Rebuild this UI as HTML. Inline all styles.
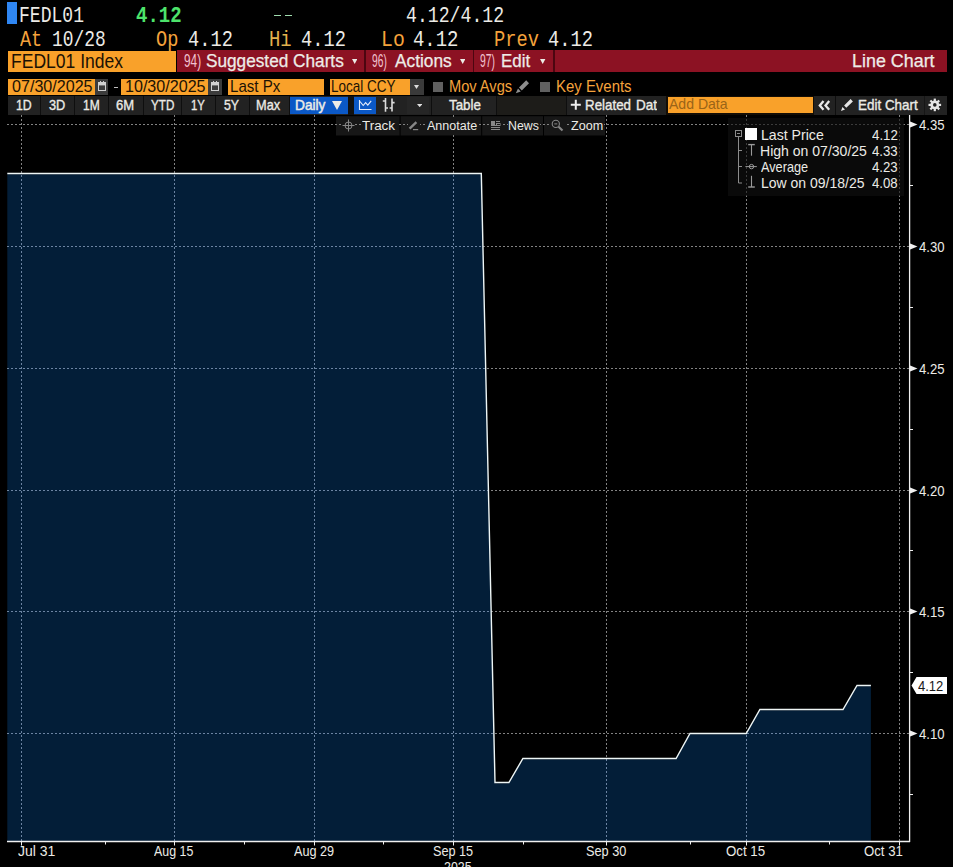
<!DOCTYPE html>
<html><head><meta charset="utf-8"><style>
html,body{margin:0;padding:0;background:#000;}
body{width:953px;height:867px;overflow:hidden;position:relative;font-family:"Liberation Sans",sans-serif;}
.t{position:absolute;white-space:pre;transform-origin:0 0;}
.r{position:absolute;}
</style></head><body>
<div class="r" style="left:7px;top:2px;width:10.00px;height:22.00px;background:#2f86f2;"></div>
<div class="t" style="left:19.28px;top:5.72px;font:normal 21.25px/21.25px 'Liberation Mono',monospace;color:#ecebe6;transform:scaleX(0.8497);">FEDL01</div>
<div class="t" style="left:136.13px;top:6.34px;font:bold 22.01px/22.01px 'Liberation Mono',monospace;color:#4de36b;transform:scaleX(0.8632);">4.12</div>
<div class="r" style="left:273.7px;top:14.9px;width:7.30px;height:1.30px;background:#9fdcae;"></div>
<div class="r" style="left:284.8px;top:14.9px;width:7.20px;height:1.30px;background:#9fdcae;"></div>
<div class="t" style="left:405.99px;top:5.72px;font:normal 21.25px/21.25px 'Liberation Mono',monospace;color:#ecebe6;transform:scaleX(0.8546);">4.12/4.12</div>
<div class="t" style="left:19.60px;top:29.72px;font:normal 21.25px/21.25px 'Liberation Mono',monospace;color:#f5a33c;transform:scaleX(0.8679);">At</div>
<div class="t" style="left:52.45px;top:29.72px;font:normal 21.25px/21.25px 'Liberation Mono',monospace;color:#ecebe6;transform:scaleX(0.8425);">10/28</div>
<div class="t" style="left:155.67px;top:29.72px;font:normal 21.25px/21.25px 'Liberation Mono',monospace;color:#f5a33c;transform:scaleX(0.8759);">Op</div>
<div class="t" style="left:188.07px;top:29.72px;font:normal 21.25px/21.25px 'Liberation Mono',monospace;color:#ecebe6;transform:scaleX(0.8791);">4.12</div>
<div class="t" style="left:268.89px;top:29.72px;font:normal 21.25px/21.25px 'Liberation Mono',monospace;color:#e2b24e;transform:scaleX(0.8882);">Hi</div>
<div class="t" style="left:300.66px;top:29.72px;font:normal 21.25px/21.25px 'Liberation Mono',monospace;color:#ecebe6;transform:scaleX(0.8811);">4.12</div>
<div class="t" style="left:381.32px;top:29.72px;font:normal 21.25px/21.25px 'Liberation Mono',monospace;color:#f5a33c;transform:scaleX(0.9318);">Lo</div>
<div class="t" style="left:413.35px;top:29.72px;font:normal 21.25px/21.25px 'Liberation Mono',monospace;color:#ecebe6;transform:scaleX(0.8915);">4.12</div>
<div class="t" style="left:494.30px;top:29.72px;font:normal 21.25px/21.25px 'Liberation Mono',monospace;color:#f5a33c;transform:scaleX(0.8813);">Prev</div>
<div class="t" style="left:548.06px;top:29.72px;font:normal 21.25px/21.25px 'Liberation Mono',monospace;color:#ecebe6;transform:scaleX(0.8811);">4.12</div>
<div class="r" style="left:8px;top:51px;width:168.00px;height:21.00px;background:#f9a12a;"></div>
<div class="t" style="left:10.70px;top:50.77px;font:normal 20.35px/20.35px 'Liberation Sans',sans-serif;color:#1c1204;transform:scaleX(0.8620);">FEDL01 Index</div>
<div class="r" style="left:177px;top:50px;width:770.00px;height:22.00px;background:#8c1223;"></div>
<div class="r" style="left:364.4px;top:50px;width:1.50px;height:22.00px;background:#4c0610;"></div>
<div class="r" style="left:472.8px;top:50px;width:1.50px;height:22.00px;background:#4c0610;"></div>
<div class="r" style="left:553px;top:50px;width:1.50px;height:22.00px;background:#4c0610;"></div>
<div class="t" style="left:183.67px;top:52.00px;font:normal 18.90px/18.90px 'Liberation Sans',sans-serif;color:#f2c2d0;transform:scaleX(0.6263);">94)</div>
<div class="t" style="left:205.83px;top:52.00px;font:normal 18.90px/18.90px 'Liberation Sans',sans-serif;color:#ecebe6;transform:scaleX(0.9109);-webkit-text-stroke:0.25px #f4f2ee;">Suggested Charts</div>
<svg class="r" style="left:351.80px;top:59.10px" width="5.4" height="5"><polygon points="0,0 5.4,0 2.7,5" fill="#ecebe6"/></svg>
<div class="t" style="left:371.84px;top:52.00px;font:normal 18.90px/18.90px 'Liberation Sans',sans-serif;color:#f2c2d0;transform:scaleX(0.5431);">96)</div>
<div class="t" style="left:394.70px;top:52.00px;font:normal 18.90px/18.90px 'Liberation Sans',sans-serif;color:#ecebe6;transform:scaleX(0.9149);-webkit-text-stroke:0.25px #f4f2ee;">Actions</div>
<svg class="r" style="left:460.00px;top:59.10px" width="5.4" height="5"><polygon points="0,0 5.4,0 2.7,5" fill="#ecebe6"/></svg>
<div class="t" style="left:480.43px;top:52.00px;font:normal 18.90px/18.90px 'Liberation Sans',sans-serif;color:#f2c2d0;transform:scaleX(0.5471);">97)</div>
<div class="t" style="left:501.44px;top:52.00px;font:normal 18.90px/18.90px 'Liberation Sans',sans-serif;color:#ecebe6;transform:scaleX(0.8966);-webkit-text-stroke:0.25px #f4f2ee;">Edit</div>
<svg class="r" style="left:540.30px;top:59.10px" width="5.4" height="5"><polygon points="0,0 5.4,0 2.7,5" fill="#ecebe6"/></svg>
<div class="t" style="left:852.37px;top:52.00px;font:normal 18.90px/18.90px 'Liberation Sans',sans-serif;color:#ecebe6;transform:scaleX(0.9473);-webkit-text-stroke:0.25px #f4f2ee;">Line Chart</div>
<div class="r" style="left:8px;top:78.8px;width:87.00px;height:16.00px;background:#f9a12a;"></div>
<div class="t" style="left:11.96px;top:79.46px;font:normal 15.99px/15.99px 'Liberation Sans',sans-serif;color:#1c1204;transform:scaleX(1.0071);">07/30/2025</div>
<div class="r" style="left:95px;top:78.8px;width:13.30px;height:16.00px;background:#3c3c3c;"></div>
<svg class="r" style="left:98px;top:80px" width="10" height="13"><rect x="0.5" y="2.5" width="7" height="8" fill="none" stroke="#d0d0d0" stroke-width="1"/><rect x="1" y="3" width="6" height="2.4" fill="#d0d0d0"/><path d="M2.5,1 V3 M5.5,1 V3" stroke="#d0d0d0" stroke-width="1"/></svg>
<div class="r" style="left:114px;top:86.5px;width:4.00px;height:1.20px;background:#bdbdbd;"></div>
<div class="r" style="left:121.2px;top:78.8px;width:86.60px;height:16.00px;background:#f9a12a;"></div>
<div class="t" style="left:125.29px;top:79.46px;font:normal 15.99px/15.99px 'Liberation Sans',sans-serif;color:#1c1204;transform:scaleX(1.0066);">10/30/2025</div>
<div class="r" style="left:207.8px;top:78.8px;width:13.90px;height:16.00px;background:#3c3c3c;"></div>
<svg class="r" style="left:211px;top:80px" width="10" height="13"><rect x="0.5" y="2.5" width="7" height="8" fill="none" stroke="#d0d0d0" stroke-width="1"/><rect x="1" y="3" width="6" height="2.4" fill="#d0d0d0"/><path d="M2.5,1 V3 M5.5,1 V3" stroke="#d0d0d0" stroke-width="1"/></svg>
<div class="r" style="left:228px;top:78.8px;width:95.50px;height:16.00px;background:#f9a12a;"></div>
<div class="t" style="left:229.79px;top:79.46px;font:normal 15.99px/15.99px 'Liberation Sans',sans-serif;color:#1c1204;transform:scaleX(0.9444);">Last Px</div>
<div class="r" style="left:330.3px;top:78.8px;width:79.70px;height:16.00px;background:#f9a12a;"></div>
<div class="t" style="left:331.42px;top:79.46px;font:normal 15.99px/15.99px 'Liberation Sans',sans-serif;color:#1c1204;transform:scaleX(0.8433);">Local CCY</div>
<div class="r" style="left:410px;top:78.8px;width:13.50px;height:16.00px;background:#3a3a3a;"></div>
<svg class="r" style="left:414.30px;top:85.00px" width="5" height="4"><polygon points="0,0 5,0 2.5,4" fill="#dddddd"/></svg>
<div class="r" style="left:432.8px;top:81.6px;width:9.80px;height:10.40px;background:#606060;"></div>
<div class="t" style="left:448.83px;top:79.46px;font:normal 15.99px/15.99px 'Liberation Sans',sans-serif;color:#f5a33c;transform:scaleX(0.9143);">Mov Avgs</div>
<svg class="r" style="left:0;top:0" width="953" height="120"><path d="M526.2,80.3 L529,83.2 L521.8,90.4 L519,87.6 Z M518,88.6 L520.8,91.4 L515.8,93.2 Z" fill="#8e8e8e"/></svg>
<div class="r" style="left:540.3px;top:81.6px;width:10.00px;height:10.40px;background:#606060;"></div>
<div class="t" style="left:555.90px;top:79.46px;font:normal 15.99px/15.99px 'Liberation Sans',sans-serif;color:#f5a33c;transform:scaleX(0.9347);">Key Events</div>
<div class="r" style="left:8px;top:96.1px;width:939.00px;height:18.60px;background:#222222;"></div>
<div class="r" style="left:40.3px;top:96.1px;width:1.00px;height:18.60px;background:#0e0e0e;"></div>
<div class="r" style="left:73.9px;top:96.1px;width:1.00px;height:18.60px;background:#0e0e0e;"></div>
<div class="r" style="left:107.5px;top:96.1px;width:1.00px;height:18.60px;background:#0e0e0e;"></div>
<div class="r" style="left:143px;top:96.1px;width:1.00px;height:18.60px;background:#0e0e0e;"></div>
<div class="r" style="left:180.8px;top:96.1px;width:1.00px;height:18.60px;background:#0e0e0e;"></div>
<div class="r" style="left:215px;top:96.1px;width:1.00px;height:18.60px;background:#0e0e0e;"></div>
<div class="r" style="left:249.4px;top:96.1px;width:1.00px;height:18.60px;background:#0e0e0e;"></div>
<div class="r" style="left:288.9px;top:96.1px;width:1.00px;height:18.60px;background:#0e0e0e;"></div>
<div class="r" style="left:430.5px;top:96.1px;width:1.00px;height:18.60px;background:#0e0e0e;"></div>
<div class="r" style="left:495.5px;top:96.1px;width:1.00px;height:18.60px;background:#0e0e0e;"></div>
<div class="r" style="left:566px;top:96.1px;width:1.00px;height:18.60px;background:#0e0e0e;"></div>
<div class="r" style="left:923.6px;top:96.1px;width:1.00px;height:18.60px;background:#161616;"></div>
<div class="t" style="left:16.08px;top:97.69px;font:normal 14.54px/14.54px 'Liberation Sans',sans-serif;color:#ecebe6;transform:scaleX(0.8458);-webkit-text-stroke:0.35px #ecebe6;">1D</div>
<div class="t" style="left:49.19px;top:97.69px;font:normal 14.54px/14.54px 'Liberation Sans',sans-serif;color:#ecebe6;transform:scaleX(0.8788);-webkit-text-stroke:0.35px #ecebe6;">3D</div>
<div class="t" style="left:83.20px;top:97.69px;font:normal 14.54px/14.54px 'Liberation Sans',sans-serif;color:#ecebe6;transform:scaleX(0.8278);-webkit-text-stroke:0.35px #ecebe6;">1M</div>
<div class="t" style="left:116.15px;top:97.69px;font:normal 14.54px/14.54px 'Liberation Sans',sans-serif;color:#ecebe6;transform:scaleX(0.8990);-webkit-text-stroke:0.35px #ecebe6;">6M</div>
<div class="t" style="left:151.11px;top:97.69px;font:normal 14.54px/14.54px 'Liberation Sans',sans-serif;color:#ecebe6;transform:scaleX(0.8021);-webkit-text-stroke:0.35px #ecebe6;">YTD</div>
<div class="t" style="left:191.45px;top:97.69px;font:normal 14.54px/14.54px 'Liberation Sans',sans-serif;color:#ecebe6;transform:scaleX(0.7767);-webkit-text-stroke:0.35px #ecebe6;">1Y</div>
<div class="t" style="left:223.71px;top:97.69px;font:normal 14.54px/14.54px 'Liberation Sans',sans-serif;color:#ecebe6;transform:scaleX(0.8481);-webkit-text-stroke:0.35px #ecebe6;">5Y</div>
<div class="t" style="left:255.98px;top:97.69px;font:normal 14.54px/14.54px 'Liberation Sans',sans-serif;color:#ecebe6;transform:scaleX(0.8791);-webkit-text-stroke:0.35px #ecebe6;">Max</div>
<div class="r" style="left:289.5px;top:96.6px;width:58.50px;height:17.20px;background:#0b58c6;"></div>
<div class="t" style="left:294.60px;top:97.69px;font:normal 14.54px/14.54px 'Liberation Sans',sans-serif;color:#ecebe6;transform:scaleX(0.9430);-webkit-text-stroke:0.5px #ecebe6;">Daily</div>
<svg class="r" style="left:332.30px;top:100.90px" width="10" height="9"><polygon points="0,0 10,0 5.0,9" fill="#ecebe6"/></svg>
<div class="r" style="left:348px;top:96.1px;width:5.80px;height:18.60px;background:#111;"></div>
<div class="r" style="left:353.8px;top:96.6px;width:22.20px;height:17.20px;background:#0b58c6;"></div>
<svg class="r" style="left:0;top:0" width="953" height="120"><path d="M359.5,100 V109.5 H371.5" fill="none" stroke="#e6eefc" stroke-width="1.1"/><path d="M360,101.5 L363.2,105.5 L365.6,102.6 L367.8,105.2 L371.2,100.8" fill="none" stroke="#e6eefc" stroke-width="1.1"/><path d="M385.5,98 V111.8 M382.8,101 H385.5 M385.5,108 H388 M392,98.5 V111.5 M389.6,108 H392 M392,102.6 H394.6" fill="none" stroke="#dcdcdc" stroke-width="1.6"/></svg>
<div class="r" style="left:406.9px;top:96.6px;width:22.10px;height:17.60px;background:#262626;"></div>
<svg class="r" style="left:416.90px;top:104.00px" width="5.4" height="3.2"><polygon points="0,0 5.4,0 2.7,3.2" fill="#e0e0e0"/></svg>
<div class="t" style="left:449.23px;top:97.69px;font:normal 14.54px/14.54px 'Liberation Sans',sans-serif;color:#ecebe6;transform:scaleX(0.9203);-webkit-text-stroke:0.35px #ecebe6;">Table</div>
<div class="r" style="left:497px;top:96.1px;width:68.50px;height:18.60px;background:#1d1c19;"></div>
<svg class="r" style="left:0;top:0" width="953" height="120"><path d="M570.8,104.8 H580.8 M575.8,99.8 V109.8" stroke="#f0f0f0" stroke-width="2"/></svg>
<div class="t" style="left:585.43px;top:97.69px;font:normal 14.54px/14.54px 'Liberation Sans',sans-serif;color:#ecebe6;transform:scaleX(0.9194);-webkit-text-stroke:0.35px #ecebe6;">Related</div>
<div class="r" style="left:566px;top:96px;width:91px;height:19px;overflow:hidden"><div class="t" style="left:69.74px;top:1.69px;font:normal 14.54px/14.54px 'Liberation Sans',sans-serif;color:#ecebe6;transform:scaleX(0.93);-webkit-text-stroke:0.35px #ecebe6;">Data</div></div>
<div class="r" style="left:665.5px;top:96.1px;width:148.50px;height:18.60px;background:#130d05;"></div>
<div class="r" style="left:667.5px;top:97px;width:145.30px;height:15.70px;background:#f9a12a;"></div>
<div class="t" style="left:669.30px;top:97.19px;font:normal 14.54px/14.54px 'Liberation Sans',sans-serif;color:#9a6418;transform:scaleX(0.9668);">Add Data</div>
<svg class="r" style="left:0;top:0" width="953" height="120"><path d="M823.5,101 L819.8,105.4 L823.5,109.8 M829.2,101 L825.5,105.4 L829.2,109.8" fill="none" stroke="#e8e8e8" stroke-width="2.3"/></svg>
<div class="r" style="left:834.5px;top:96.1px;width:1.00px;height:18.60px;background:#0e0e0e;"></div>
<svg class="r" style="left:0;top:0" width="953" height="120"><path d="M850.6,99 L852.9,101.4 L846.3,107.7 L844.1,105.5 Z M842.4,106.9 L845,109.4 L841,110.9 Z" fill="#e6e6e6"/></svg>
<div class="t" style="left:857.52px;top:97.69px;font:normal 14.54px/14.54px 'Liberation Sans',sans-serif;color:#ecebe6;transform:scaleX(0.9247);-webkit-text-stroke:0.35px #ecebe6;">Edit Chart</div>
<svg class="r" style="left:928px;top:98px" width="14" height="14" viewBox="-6.8 -6.9 14 14"><g fill="#e4e4e4"><circle r="4.4"/><rect x="-1.1" y="-6.3" width="2.2" height="3" transform="rotate(0)"/><rect x="-1.1" y="-6.3" width="2.2" height="3" transform="rotate(45)"/><rect x="-1.1" y="-6.3" width="2.2" height="3" transform="rotate(90)"/><rect x="-1.1" y="-6.3" width="2.2" height="3" transform="rotate(135)"/><rect x="-1.1" y="-6.3" width="2.2" height="3" transform="rotate(180)"/><rect x="-1.1" y="-6.3" width="2.2" height="3" transform="rotate(225)"/><rect x="-1.1" y="-6.3" width="2.2" height="3" transform="rotate(270)"/><rect x="-1.1" y="-6.3" width="2.2" height="3" transform="rotate(315)"/></g><circle r="1.8" fill="#1e1e1e"/></svg>
<svg class="r" style="left:0;top:0" width="953" height="867">
<defs><clipPath id="cf"><polygon points="7.3,841 7.3,173.5 481.3,173.5 495.0,782.5 508.9,782.5 522.9,758.5 676.1,758.5 690.0,733.5 746.2,733.5 759.9,709.5 843.0,709.5 857.0,685.5 870.9,685.5 870.9,841"/></clipPath></defs>
<polygon points="7.3,841 7.3,174.3 481.3,174.3 495.0,783.3 508.9,783.3 522.9,759.3 676.1,759.3 690.0,734.3 746.2,734.3 759.9,710.3 843.0,710.3 857.0,686.3 870.9,686.3 870.9,841" fill="#031e38"/>
<rect x="336" y="116.2" width="63.6" height="19.3" fill="#171717"/>
<rect x="400.6" y="116.2" width="80.6" height="19.3" fill="#171717"/>
<rect x="482.2" y="116.2" width="60.8" height="19.3" fill="#171717"/>
<rect x="544" y="116.2" width="61.0" height="19.3" fill="#171717"/>
<g><line x1="7" y1="124.5" x2="909" y2="124.5" stroke="#828282" stroke-width="1" stroke-dasharray="2,2"/><line x1="7" y1="246.5" x2="909" y2="246.5" stroke="#828282" stroke-width="1" stroke-dasharray="2,2"/><line x1="7" y1="368.5" x2="909" y2="368.5" stroke="#828282" stroke-width="1" stroke-dasharray="2,2"/><line x1="7" y1="490.5" x2="909" y2="490.5" stroke="#828282" stroke-width="1" stroke-dasharray="2,2"/><line x1="7" y1="611.5" x2="909" y2="611.5" stroke="#828282" stroke-width="1" stroke-dasharray="2,2"/><line x1="7" y1="733.5" x2="909" y2="733.5" stroke="#828282" stroke-width="1" stroke-dasharray="2,2"/><line x1="21.5" y1="115" x2="21.5" y2="841" stroke="#828282" stroke-width="1" stroke-dasharray="2,2"/><line x1="174.5" y1="115" x2="174.5" y2="841" stroke="#828282" stroke-width="1" stroke-dasharray="2,2"/><line x1="314.5" y1="115" x2="314.5" y2="841" stroke="#828282" stroke-width="1" stroke-dasharray="2,2"/><line x1="453.5" y1="115" x2="453.5" y2="841" stroke="#828282" stroke-width="1" stroke-dasharray="2,2"/><line x1="606.5" y1="115" x2="606.5" y2="841" stroke="#828282" stroke-width="1" stroke-dasharray="2,2"/><line x1="746.5" y1="115" x2="746.5" y2="841" stroke="#828282" stroke-width="1" stroke-dasharray="2,2"/><line x1="899.5" y1="115" x2="899.5" y2="841" stroke="#828282" stroke-width="1" stroke-dasharray="2,2"/></g>
<g clip-path="url(#cf)"><line x1="7" y1="124.5" x2="909" y2="124.5" stroke="#6c84a2" stroke-width="1" stroke-dasharray="2,2"/><line x1="7" y1="246.5" x2="909" y2="246.5" stroke="#6c84a2" stroke-width="1" stroke-dasharray="2,2"/><line x1="7" y1="368.5" x2="909" y2="368.5" stroke="#6c84a2" stroke-width="1" stroke-dasharray="2,2"/><line x1="7" y1="490.5" x2="909" y2="490.5" stroke="#6c84a2" stroke-width="1" stroke-dasharray="2,2"/><line x1="7" y1="611.5" x2="909" y2="611.5" stroke="#6c84a2" stroke-width="1" stroke-dasharray="2,2"/><line x1="7" y1="733.5" x2="909" y2="733.5" stroke="#6c84a2" stroke-width="1" stroke-dasharray="2,2"/><line x1="21.5" y1="115" x2="21.5" y2="841" stroke="#6c84a2" stroke-width="1" stroke-dasharray="2,2"/><line x1="174.5" y1="115" x2="174.5" y2="841" stroke="#6c84a2" stroke-width="1" stroke-dasharray="2,2"/><line x1="314.5" y1="115" x2="314.5" y2="841" stroke="#6c84a2" stroke-width="1" stroke-dasharray="2,2"/><line x1="453.5" y1="115" x2="453.5" y2="841" stroke="#6c84a2" stroke-width="1" stroke-dasharray="2,2"/><line x1="606.5" y1="115" x2="606.5" y2="841" stroke="#6c84a2" stroke-width="1" stroke-dasharray="2,2"/><line x1="746.5" y1="115" x2="746.5" y2="841" stroke="#6c84a2" stroke-width="1" stroke-dasharray="2,2"/><line x1="899.5" y1="115" x2="899.5" y2="841" stroke="#6c84a2" stroke-width="1" stroke-dasharray="2,2"/></g>
<rect x="728" y="118" width="176" height="78" fill="#101010" fill-opacity="0.62"/>
<polyline points="7.3,173.5 481.3,173.5 495.0,782.5 508.9,782.5 522.9,758.5 676.1,758.5 690.0,733.5 746.2,733.5 759.9,709.5 843.0,709.5 857.0,685.5 870.9,685.5" fill="none" stroke="#eef6f6" stroke-width="1.4" stroke-linejoin="miter"/>
<line x1="7" y1="841.5" x2="910" y2="841.5" stroke="#f0f0f0" stroke-width="1.3"/>
<line x1="909.6" y1="115" x2="909.6" y2="842" stroke="#f0f0f0" stroke-width="1.3"/>
<line x1="21.5" y1="841" x2="21.5" y2="845.5" stroke="#f0f0f0" stroke-width="1"/>
<line x1="174.5" y1="841" x2="174.5" y2="845.5" stroke="#f0f0f0" stroke-width="1"/>
<line x1="314.5" y1="841" x2="314.5" y2="845.5" stroke="#f0f0f0" stroke-width="1"/>
<line x1="453.5" y1="841" x2="453.5" y2="845.5" stroke="#f0f0f0" stroke-width="1"/>
<line x1="606.5" y1="841" x2="606.5" y2="845.5" stroke="#f0f0f0" stroke-width="1"/>
<line x1="746.5" y1="841" x2="746.5" y2="845.5" stroke="#f0f0f0" stroke-width="1"/>
<line x1="899.5" y1="841" x2="899.5" y2="845.5" stroke="#f0f0f0" stroke-width="1"/>
<line x1="105.5" y1="841" x2="105.5" y2="844.5" stroke="#f0f0f0" stroke-width="1"/>
<line x1="244.5" y1="841" x2="244.5" y2="844.5" stroke="#f0f0f0" stroke-width="1"/>
<line x1="383.5" y1="841" x2="383.5" y2="844.5" stroke="#f0f0f0" stroke-width="1"/>
<line x1="523.5" y1="841" x2="523.5" y2="844.5" stroke="#f0f0f0" stroke-width="1"/>
<line x1="690.5" y1="841" x2="690.5" y2="844.5" stroke="#f0f0f0" stroke-width="1"/>
<line x1="829.5" y1="841" x2="829.5" y2="844.5" stroke="#f0f0f0" stroke-width="1"/>
<polygon points="909.5,121.3 917.5,124.5 909.5,127.7" fill="#f0f0f0"/>
<polygon points="909.5,243.3 917.5,246.5 909.5,249.7" fill="#f0f0f0"/>
<polygon points="909.5,365.3 917.5,368.5 909.5,371.7" fill="#f0f0f0"/>
<polygon points="909.5,487.3 917.5,490.5 909.5,493.7" fill="#f0f0f0"/>
<polygon points="909.5,608.3 917.5,611.5 909.5,614.7" fill="#f0f0f0"/>
<polygon points="909.5,730.3 917.5,733.5 909.5,736.7" fill="#f0f0f0"/>
<line x1="909.5" y1="185.5" x2="913" y2="185.5" stroke="#f0f0f0" stroke-width="1"/>
<line x1="909.5" y1="307.5" x2="913" y2="307.5" stroke="#f0f0f0" stroke-width="1"/>
<line x1="909.5" y1="429.5" x2="913" y2="429.5" stroke="#f0f0f0" stroke-width="1"/>
<line x1="909.5" y1="550.5" x2="913" y2="550.5" stroke="#f0f0f0" stroke-width="1"/>
<line x1="909.5" y1="672.5" x2="913" y2="672.5" stroke="#f0f0f0" stroke-width="1"/>
<line x1="909.5" y1="794.5" x2="913" y2="794.5" stroke="#f0f0f0" stroke-width="1"/>
<polygon points="911.5,685.5 916.5,677.0 947,677.0 947,694.0 916.5,694.0" fill="#ffffff"/>
</svg>
<div class="t" style="left:918.94px;top:117.89px;font:normal 14.54px/14.54px 'Liberation Sans',sans-serif;color:#ecebe6;transform:scaleX(0.9052);">4.35</div>
<div class="t" style="left:918.94px;top:239.89px;font:normal 14.54px/14.54px 'Liberation Sans',sans-serif;color:#ecebe6;transform:scaleX(0.9028);">4.30</div>
<div class="t" style="left:918.94px;top:361.89px;font:normal 14.54px/14.54px 'Liberation Sans',sans-serif;color:#ecebe6;transform:scaleX(0.9052);">4.25</div>
<div class="t" style="left:918.94px;top:483.89px;font:normal 14.54px/14.54px 'Liberation Sans',sans-serif;color:#ecebe6;transform:scaleX(0.9028);">4.20</div>
<div class="t" style="left:918.94px;top:604.89px;font:normal 14.54px/14.54px 'Liberation Sans',sans-serif;color:#ecebe6;transform:scaleX(0.9052);">4.15</div>
<div class="t" style="left:918.94px;top:726.89px;font:normal 14.54px/14.54px 'Liberation Sans',sans-serif;color:#ecebe6;transform:scaleX(0.9028);">4.10</div>
<div class="t" style="left:918.14px;top:678.89px;font:normal 14.54px/14.54px 'Liberation Sans',sans-serif;color:#1a1a1a;transform:scaleX(0.8953);">4.12</div>
<div class="t" style="left:18.29px;top:844.06px;font:normal 14.10px/14.10px 'Liberation Sans',sans-serif;color:#ecebe6;transform:scaleX(0.9938);">Jul 31</div>
<div class="t" style="left:154.20px;top:844.06px;font:normal 14.10px/14.10px 'Liberation Sans',sans-serif;color:#ecebe6;transform:scaleX(0.8792);">Aug 15</div>
<div class="t" style="left:294.20px;top:844.06px;font:normal 14.10px/14.10px 'Liberation Sans',sans-serif;color:#ecebe6;transform:scaleX(0.8988);">Aug 29</div>
<div class="t" style="left:432.83px;top:844.06px;font:normal 14.10px/14.10px 'Liberation Sans',sans-serif;color:#ecebe6;transform:scaleX(0.8989);">Sep 15</div>
<div class="t" style="left:586.03px;top:844.06px;font:normal 14.10px/14.10px 'Liberation Sans',sans-serif;color:#ecebe6;transform:scaleX(0.9021);">Sep 30</div>
<div class="t" style="left:725.90px;top:844.06px;font:normal 14.10px/14.10px 'Liberation Sans',sans-serif;color:#ecebe6;transform:scaleX(0.9424);">Oct 15</div>
<div class="t" style="left:864.01px;top:844.06px;font:normal 14.10px/14.10px 'Liberation Sans',sans-serif;color:#ecebe6;transform:scaleX(0.9366);">Oct 31</div>
<div class="t" style="left:444.18px;top:860.06px;font:normal 14.10px/14.10px 'Liberation Sans',sans-serif;color:#ecebe6;transform:scaleX(0.8804);">2025</div>
<div class="r" style="left:342px;top:117.5px;width:13.00px;height:16.50px;background:#171717;"></div>
<div class="r" style="left:361px;top:117.5px;width:35.50px;height:16.50px;background:#171717;"></div>
<div class="r" style="left:407.5px;top:117.5px;width:12.00px;height:16.50px;background:#171717;"></div>
<div class="r" style="left:426px;top:117.5px;width:52.00px;height:16.50px;background:#171717;"></div>
<div class="r" style="left:489.5px;top:117.5px;width:12.00px;height:16.50px;background:#171717;"></div>
<div class="r" style="left:508px;top:117.5px;width:32.00px;height:16.50px;background:#171717;"></div>
<div class="r" style="left:550.5px;top:117.5px;width:14.00px;height:16.50px;background:#171717;"></div>
<div class="r" style="left:570px;top:117.5px;width:34.00px;height:16.50px;background:#171717;"></div>
<svg class="r" style="left:0;top:0" width="953" height="140"><g fill="none" stroke="#878787" stroke-width="1">
<circle cx="348.5" cy="125.5" r="3.5"/><path d="M348.5,119.5 V131.5 M342.5,125.5 H354.5"/>
<path d="M496,121.5 H500 M491,125.5 H500 M491,127.5 H500 M491,129.5 H500"/><rect x="496.5" y="123.5" width="3.5" height="2"/>
<circle cx="555.8" cy="123.9" r="3.6" stroke-width="1.1"/><path d="M554.3,123.9 H557.3"/><path d="M558.6,126.8 L562.5,130.5" stroke-width="2.2"/>
<path d="M409.6,128.6 L416.4,122.2" stroke-width="2.4"/><path d="M413,129.6 H418.2" stroke-width="1.2"/>
</g><rect x="491" y="121" width="4" height="4" fill="#878787"/></svg>
<div class="t" style="left:362.03px;top:118.55px;font:normal 13.52px/13.52px 'Liberation Sans',sans-serif;color:#ecebe6;transform:scaleX(0.9924);">Track</div>
<div class="t" style="left:427.30px;top:118.55px;font:normal 13.52px/13.52px 'Liberation Sans',sans-serif;color:#ecebe6;transform:scaleX(0.9259);">Annotate</div>
<div class="t" style="left:508.41px;top:118.55px;font:normal 13.52px/13.52px 'Liberation Sans',sans-serif;color:#ecebe6;transform:scaleX(0.9119);">News</div>
<div class="t" style="left:571.12px;top:118.55px;font:normal 13.52px/13.52px 'Liberation Sans',sans-serif;color:#ecebe6;transform:scaleX(0.9303);">Zoom</div>
<svg class="r" style="left:0;top:0" width="953" height="200"><g fill="none" stroke="#8c8c8c" stroke-width="1"><rect x="735.5" y="130.5" width="6" height="6"/><path d="M737,133.5 H740"/><path d="M738.5,136.5 V183 H742 M738.5,150.5 H742 M738.5,166.5 H742"/></g></svg>
<div class="r" style="left:745px;top:128px;width:12.00px;height:12.00px;background:#ffffff;"></div>
<svg class="r" style="left:0;top:0" width="953" height="200"><g stroke="#9a9a9a" fill="none"><path d="M748.2,144.6 H754.8" stroke-width="1.4"/><path d="M751.5,144.6 V155.7" stroke-width="1.1"/><path d="M745.4,166.6 H756.8" stroke-width="1"/><circle cx="751.5" cy="166.6" r="2.2" stroke-width="1"/><path d="M751.5,175.8 V187" stroke-width="1.1"/><path d="M748.2,187 H754.8" stroke-width="1.4"/></g></svg>
<div class="t" style="left:760.87px;top:127.69px;font:normal 14.54px/14.54px 'Liberation Sans',sans-serif;color:#ecebe6;transform:scaleX(0.9715);">Last Price</div>
<div class="t" style="left:872.13px;top:127.69px;font:normal 14.54px/14.54px 'Liberation Sans',sans-serif;color:#ecebe6;transform:scaleX(0.9136);">4.12</div>
<div class="t" style="left:760.38px;top:143.69px;font:normal 14.54px/14.54px 'Liberation Sans',sans-serif;color:#ecebe6;transform:scaleX(0.9657);">High on 07/30/25</div>
<div class="t" style="left:872.14px;top:143.69px;font:normal 14.54px/14.54px 'Liberation Sans',sans-serif;color:#ecebe6;transform:scaleX(0.9088);">4.33</div>
<div class="t" style="left:761.00px;top:159.69px;font:normal 14.54px/14.54px 'Liberation Sans',sans-serif;color:#ecebe6;transform:scaleX(0.8741);">Average</div>
<div class="t" style="left:872.14px;top:159.69px;font:normal 14.54px/14.54px 'Liberation Sans',sans-serif;color:#ecebe6;transform:scaleX(0.9088);">4.23</div>
<div class="t" style="left:760.88px;top:175.69px;font:normal 14.54px/14.54px 'Liberation Sans',sans-serif;color:#ecebe6;transform:scaleX(0.9627);">Low on 09/18/25</div>
<div class="t" style="left:872.14px;top:175.69px;font:normal 14.54px/14.54px 'Liberation Sans',sans-serif;color:#ecebe6;transform:scaleX(0.9088);">4.08</div>
</body></html>
